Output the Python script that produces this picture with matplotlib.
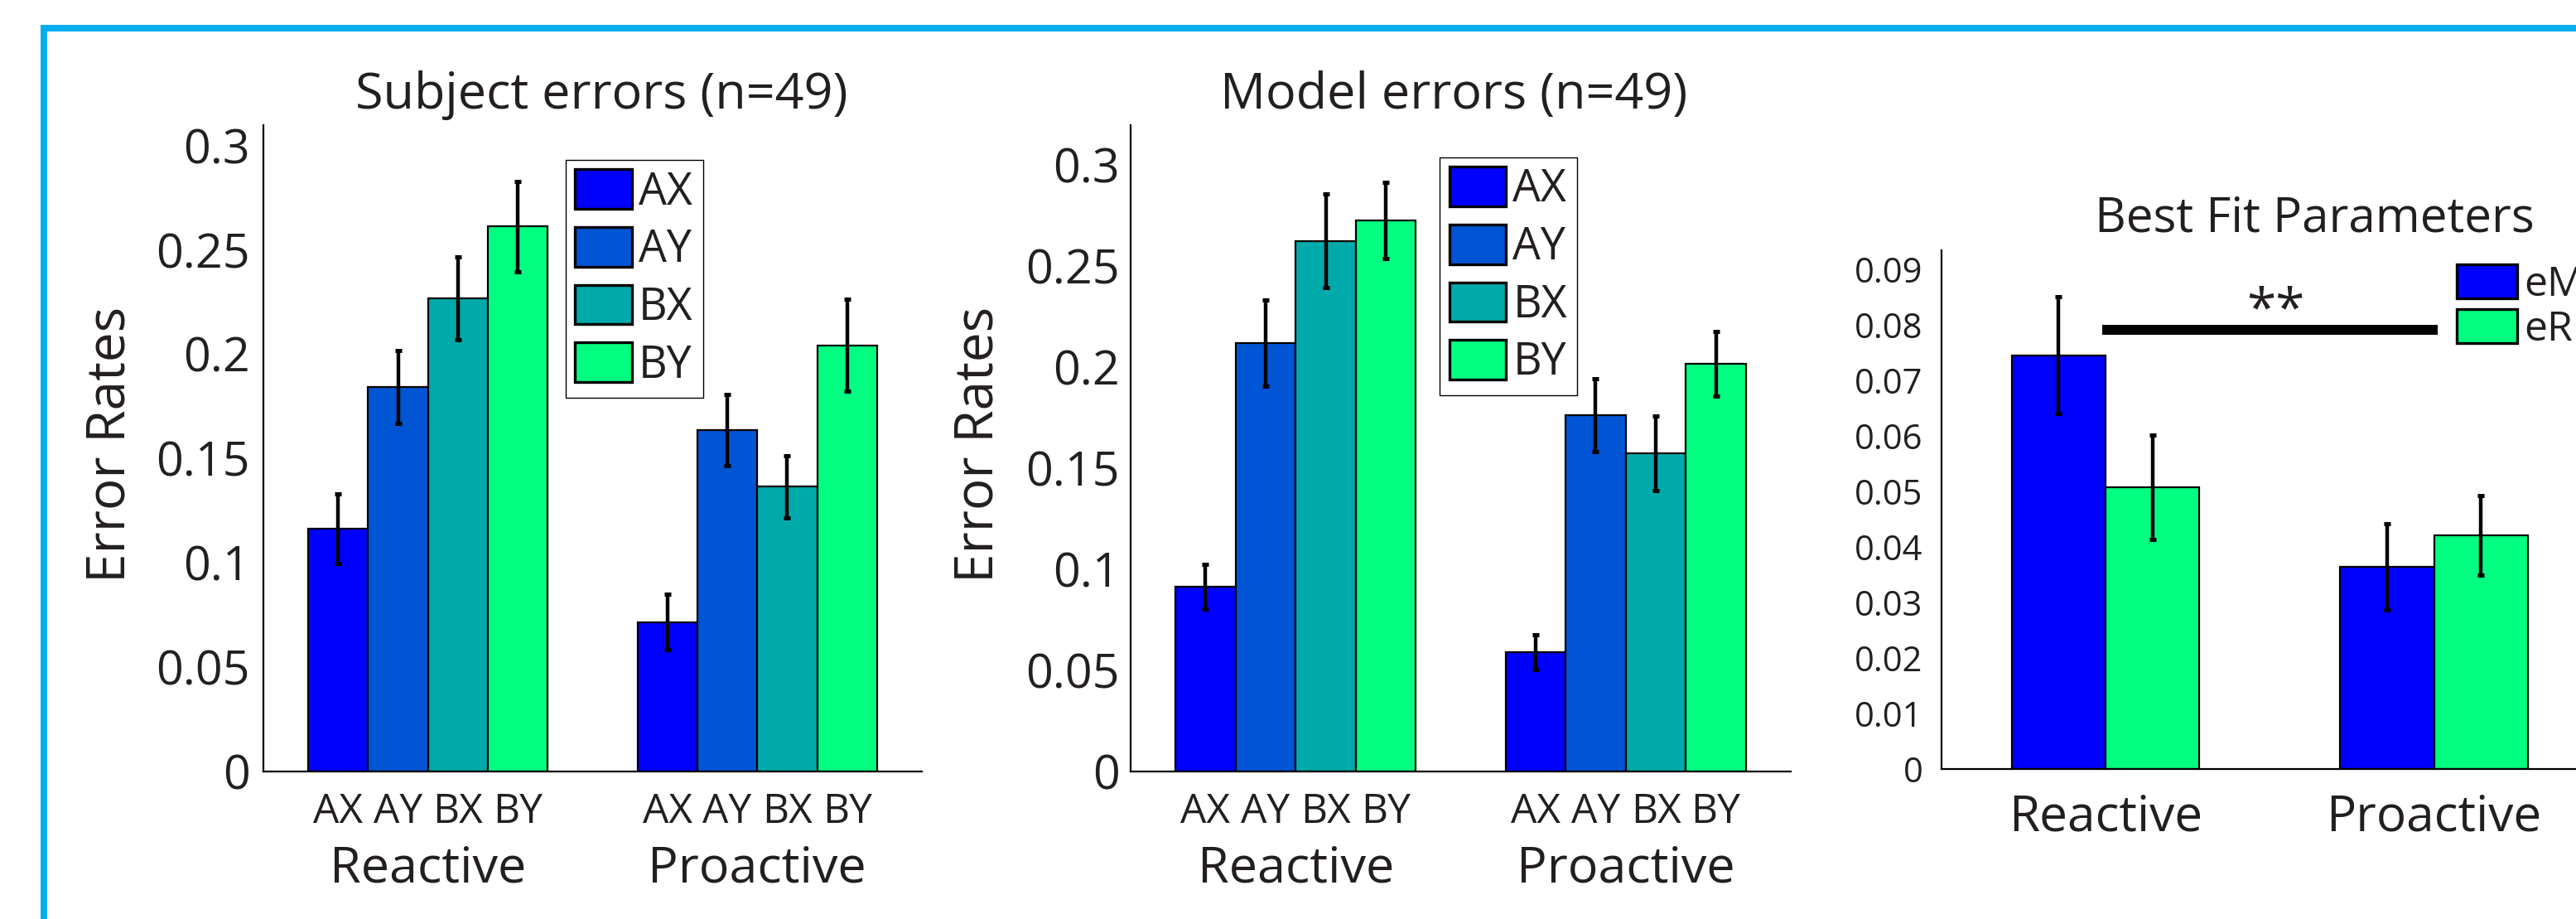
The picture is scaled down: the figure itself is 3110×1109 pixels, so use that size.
import numpy as np
import matplotlib.pyplot as plt
from matplotlib.patches import Rectangle
from matplotlib.transforms import blended_transform_factory

plt.rcParams['font.family'] = ['Open Sans', 'DejaVu Sans']

W, H = 3110, 1109
TXT = '#231f20'

groups = ['Reactive', 'Proactive']
trials = ['AX', 'AY', 'BX', 'BY']
trial_colors = ['#0000ff', '#0055d4', '#00aaaa', '#00ff80']

# rows: AX, AY, BX, BY   cols: Reactive, Proactive
subject_mean = [[0.1165, 0.0715], [0.1843, 0.1635], [0.2268, 0.1365], [0.2612, 0.2043]]
subject_err = [[0.0167, 0.0133], [0.0176, 0.0170], [0.0199, 0.0149], [0.0215, 0.0220]]
model_mean = [[0.0915, 0.0590], [0.2120, 0.1763], [0.2626, 0.1574], [0.2727, 0.2016]]
model_err = [[0.0111, 0.0087], [0.0212, 0.0180], [0.0231, 0.0186], [0.0188, 0.0160]]

params = ['eM', 'eR']
param_colors = ['#0000ff', '#00ff80']
param_mean = [[0.0746, 0.0364], [0.0508, 0.0421]]
param_err = [[0.0105, 0.0078], [0.0094, 0.0072]]


def px(x, y):
    return x / W, 1 - y / H


def rect(x0, y0, x1, y1):
    return [x0 / W, 1 - y1 / H, (x1 - x0) / W, (y1 - y0) / H]


def draw_bars(ax, means, errs, colors, labels, width):
    xg = np.arange(1, len(groups) + 1)
    n = len(means)
    xs = []
    for i in range(n):
        x = xg + (i - (n - 1) / 2) * width
        ax.bar(x, means[i], width, color=colors[i], edgecolor='black',
               linewidth=1.6, label=labels[i], zorder=2)
        ax.errorbar(x, means[i], yerr=errs[i], fmt='none', ecolor='black',
                    elinewidth=3.2, capsize=3.0, capthick=3.6, zorder=3)
        xs.append(x)
    return xs


def style(ax, ylim, yticks, ytick_size, ypad):
    ax.set_xlim(0.5, 2.5)
    ax.set_ylim(*ylim)
    ax.set_yticks(yticks)
    ax.set_yticklabels([f'{v:g}' for v in yticks])
    for s in ['top', 'right']:
        ax.spines[s].set_visible(False)
    for s in ['left', 'bottom']:
        ax.spines[s].set_linewidth(1.6)
    ax.tick_params(axis='both', length=0, labelcolor=TXT)
    ax.tick_params(axis='y', labelsize=ytick_size, pad=ypad)


fig = plt.figure(figsize=(W / 100, H / 100), dpi=100)

panels = [
    (rect(318, 150.6, 1113, 930.7), subject_mean, subject_err, 0.31,
     'Subject errors (n=49)', 726, 150.8, (682.7, 192.7), 11.8),
    (rect(1365, 150.6, 2162, 930.7), model_mean, model_err, 0.32,
     'Model errors (n=49)', 1755, 1198.9, (1737.8, 189.5), 9.5),
]

for pos, means, errs, ytop, title, tx, ylx, legpos, ypad in panels:
    ax = fig.add_axes(pos)
    xs = draw_bars(ax, means, errs, trial_colors, trials, 0.182)
    style(ax, (0, ytop), np.round(np.arange(0, 0.31, 0.05), 2), 41.3, ypad)
    ticks = sorted(np.concatenate(xs))
    ax.set_xticks(ticks)
    ax.set_xticklabels(trials * len(groups))
    ax.tick_params(axis='x', labelsize=35.7, pad=17.8)
    tr = blended_transform_factory(ax.transData, ax.transAxes)
    for g, name in enumerate(groups):
        ax.text(g + 1, -0.1714, name, transform=tr, ha='center',
                va='baseline', fontsize=44, color=TXT)
    fig.text(*px(tx, 130.8), title, ha='center', va='baseline',
             fontsize=44, color=TXT)
    fig.text(*px(ylx, 536.8), 'Error Rates', rotation=90,
             rotation_mode='anchor', ha='center', va='baseline',
             fontsize=46, color=TXT)
    leg = ax.legend(loc='upper left', bbox_to_anchor=px(*legpos),
                    bbox_transform=fig.transFigure, fontsize=38.6,
                    handlelength=1.28, handleheight=0.99, handletextpad=0.15,
                    labelspacing=0.27, borderpad=0.22, borderaxespad=0,
                    frameon=True, fancybox=False, edgecolor='black',
                    framealpha=1)
    leg.get_frame().set_linewidth(1.0)
    for p in leg.get_patches():
        p.set_linewidth(2.4)
    for t in leg.get_texts():
        t.set_color(TXT)

# best fit parameters
ax3 = fig.add_axes(rect(2343.5, 302, 3137.1, 927.9))
draw_bars(ax3, param_mean, param_err, param_colors, params, 0.2857)
style(ax3, (0, 0.0935), np.round(np.arange(0, 0.091, 0.01), 2), 30, 16)
ax3.set_xticks([1, 2])
ax3.set_xticklabels(groups)
ax3.tick_params(axis='x', labelsize=43.4, pad=20.9)
ax3.plot([0.99, 2.01], [0.0791, 0.0791], color='black', linewidth=8.6,
         solid_capstyle='butt', zorder=4)
fig.text(*px(2747.4, 393), '**', ha='center', va='baseline', fontsize=46,
         color=TXT)
fig.text(*px(2794.4, 279.3), 'Best Fit Parameters', ha='center',
         va='baseline', fontsize=42, color=TXT)
leg3 = ax3.legend(loc='upper left', bbox_to_anchor=px(2966, 319),
                  bbox_transform=fig.transFigure, fontsize=36,
                  handlelength=1.46, handleheight=0.88, handletextpad=0.16,
                  labelspacing=0.09, borderpad=0, borderaxespad=0,
                  frameon=False)
for p in leg3.get_patches():
    p.set_linewidth(2.4)
for t in leg3.get_texts():
    t.set_color(TXT)

# cyan frame, only top and left edges fall inside the picture
fig.add_artist(Rectangle((53 / W, -0.2), 1.5, 1 - 34 / H + 0.2,
                         transform=fig.transFigure, fill=False,
                         edgecolor='#00aeef', linewidth=5.76))

fig.savefig('out.png', dpi=100)
